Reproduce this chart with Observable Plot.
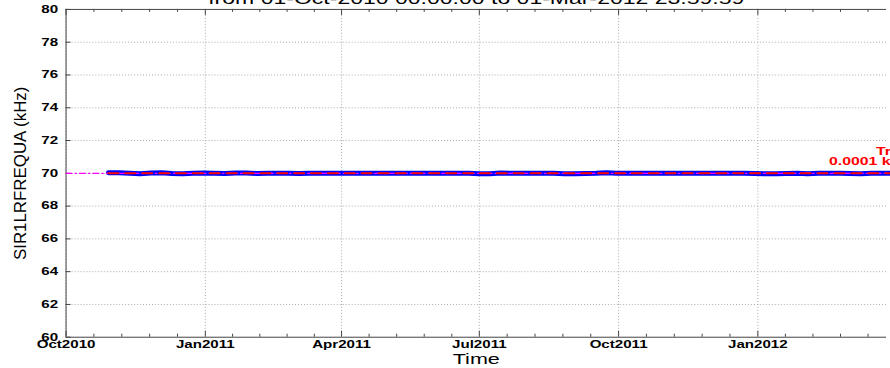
<!DOCTYPE html>
<html><head><meta charset="utf-8">
<script src="https://cdn.jsdelivr.net/npm/d3@7"></script>
<script src="https://cdn.jsdelivr.net/npm/@observablehq/plot@0.6"></script>
<style>
html,body{margin:0;padding:0;background:#fff;overflow:hidden;width:890px;height:368px}
#chart svg{display:block;overflow:visible}
#chart g[aria-label="x-axis tick label"] text,#chart g[aria-label="y-axis tick label"] text{font-weight:bold}
</style></head><body><div id="chart"></div>
<script>
const titleText = "from 01-Oct-2010 00:00:00 to 01-Mar-2012 23:59:59";
const yLabel = "SIR1LRFREQUA (kHz)";
const xLabel = "Time";
const xDomain = ["2010-10-01", "2012-03-26"];
const yDomain = [60, 80];
const majorTickDates = ["2010-10-01","2011-01-01","2011-04-01","2011-07-01","2011-10-01","2012-01-01"];
const minorTickEnd = "2012-04-01";
const yTicks = [60, 62, 64, 66, 68, 70, 72, 74, 76, 78, 80];
const yGridTicks = [62, 64, 66, 68, 70, 72, 74, 76, 78];
const seriesStart = "2010-10-29";
const freqValues = [
  70.03,70.03,70.01,69.98,70.02,70.03,69.99,69.98,70.01,70.02,
  70.00,69.99,70.02,70.02,69.99,70.00,70.01,70.00,69.99,70.00,70.00,70.00,70.00,
  70.00,70.00,70.00,70.00,70.00,70.00,70.00,70.00,70.00,70.00,70.00,70.00,69.98,
  69.98,70.02,70.00,70.01,70.00,70.00,70.00,69.98,69.97,69.99,70.00,70.03,70.01,
  70.00,70.00,70.00,70.00,70.00,70.00,70.00,70.00,70.00,70.00,70.00,70.00,69.99,
  69.97,69.98,69.99,70.00,69.98,70.00,70.00,70.00,69.99,69.98,70.00,70.00,70.00
];
const meanValue = 70.0;
const trendDates = ["2010-10-29", "2012-03-30"];
const trendValues = [70.0, 70.0];
const trendLabelLines = ["Trend:", "0.0001 kHz/year"];
const trendLabelDates = ["2012-03-19", "2012-02-17"];
const trendLabelValues = [71.33, 70.73];

const parse = d3.utcParse("%Y-%m-%d");
const start = parse(seriesStart);
const series = freqValues.map((v, i) => ({date: d3.utcDay.offset(start, 7 * i), value: v}));
const majors = majorTickDates.map(parse);
const tickBounds = majors.concat([parse(minorTickEnd)]);
const minors = [];
for (let i = 0; i < tickBounds.length - 1; i++) {
  const a = +tickBounds[i], b = +tickBounds[i + 1];
  for (let k = 1; k < 5; k++) minors.push(new Date(a + (b - a) * k / 5));
}
const trend = trendDates.map((d, i) => ({date: parse(d), value: trendValues[i]}));
const mean = xDomain.map(d => ({date: parse(d), value: meanValue}));
const labels = trendLabelLines.map((t, i) => ({text: t, date: parse(trendLabelDates[i]), value: trendLabelValues[i]}));

const W = 896, H = 368, mt = 9, mb = 29, ml = 66, mr = 4;
const innerH = H - mt - mb, innerW = W - ml - mr;
const axisColor = "#444";

const chart = Plot.plot({
  width: W, height: H,
  marginTop: mt, marginBottom: mb, marginLeft: ml, marginRight: mr,
  style: {fontFamily: "'Liberation Sans', Arial, sans-serif", fontSize: "10.5px", background: "#fff"},
  x: {type: "utc", domain: xDomain.map(parse)},
  y: {domain: yDomain},
  marks: [
    Plot.gridX(majors, {stroke: "#aaa", strokeOpacity: 1, strokeDasharray: "1,2"}),
    Plot.gridY(yGridTicks, {stroke: "#aaa", strokeOpacity: 1, strokeDasharray: "1,2"}),
    Plot.ruleX(majors, {insetTop: innerH - 6, stroke: axisColor}),
    Plot.ruleX(majors, {insetBottom: innerH - 6, stroke: axisColor}),
    Plot.ruleX(minors, {insetTop: innerH - 3, stroke: axisColor}),
    Plot.ruleX(minors, {insetBottom: innerH - 3, stroke: axisColor}),
    Plot.ruleY(yTicks, {insetRight: innerW - 5, stroke: axisColor}),
    Plot.ruleY([yDomain[0], yDomain[1]], {stroke: axisColor}),
    Plot.ruleX([parse(xDomain[0])], {stroke: axisColor}),
    Plot.axisX({ticks: majors, tickFormat: d3.utcFormat("%b%Y"), tickSize: 0, tickPadding: 3, label: null, fontWeight: "bold", fill: "#000"}),
    Plot.axisY({ticks: yTicks, tickFormat: d => String(d), tickSize: 0, tickPadding: 8, label: null, fontWeight: "bold", fill: "#000"}),
    Plot.line(series, {x: "date", y: "value", stroke: "#0000ff", strokeWidth: 5}),
    Plot.line(mean, {x: "date", y: "value", stroke: "#ff00ff", strokeWidth: 1.3, strokeDasharray: "6,3,1.5,3"}),
    Plot.line(trend, {x: "date", y: "value", stroke: "#ff0000", strokeWidth: 2, strokeDasharray: "10,7"}),
    Plot.text(labels, {x: "date", y: "value", text: "text", fill: "#ff0000", fontWeight: "bold", fontSize: 11, textAnchor: "start"}),
    Plot.text([titleText], {frameAnchor: "top", dy: -5, lineAnchor: "bottom", text: d => d, fontSize: 16, fill: "#000"}),
    Plot.text([xLabel], {frameAnchor: "bottom", dy: 22, lineAnchor: "middle", text: d => d, fontSize: 15, fill: "#000"}),
    Plot.text([yLabel], {frameAnchor: "left", dx: -46, rotate: -90, textAnchor: "middle", lineAnchor: "middle", text: d => d, fontSize: 17, fill: "#000"})
  ]
});
document.getElementById("chart").append(chart);
chart.querySelectorAll("text").forEach(t => {
  const tr = t.getAttribute("transform") || "";
  if (/rotate/.test(tr)) return;
  const len = t.getComputedTextLength();
  t.setAttribute("textLength", len * 1.45);
  t.setAttribute("lengthAdjust", "spacingAndGlyphs");
});
</script>
</body></html>
